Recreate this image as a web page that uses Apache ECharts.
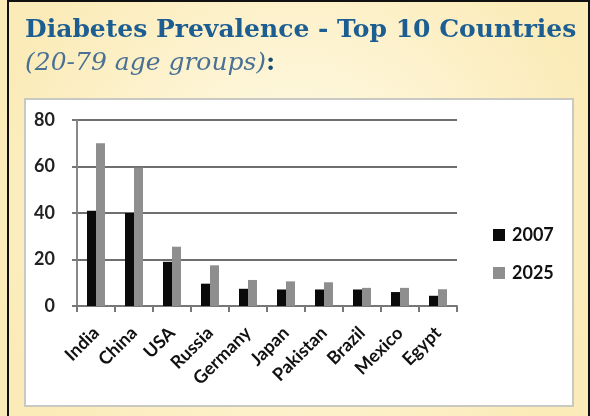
<!DOCTYPE html>
<html>
<head>
<meta charset="utf-8">
<script src="https://cdn.jsdelivr.net/npm/echarts@6/dist/echarts.min.js"></script>
<style>
  html, body { margin: 0; padding: 0; }
  #chart { width: 590px; height: 416px; }
</style>
</head>
<body>
<div id="chart"></div>
<script>
// Diabetes prevalence (millions), adults aged 20-79
const countries = ['India', 'China', 'USA', 'Russia', 'Germany', 'Japan', 'Pakistan', 'Brazil', 'Mexico', 'Egypt'];
const values2007 = [41, 40, 19, 9.6, 7.4, 7.1, 7.1, 7.1, 6.0, 4.4];
const values2025 = [70, 59.5, 25.5, 17.5, 11.2, 10.6, 10.2, 7.8, 7.8, 7.2];
const yTicks = [0, 20, 40, 60, 80];

const chart = echarts.init(document.getElementById('chart'));

const labelFont = 'Lato, "Open Sans", sans-serif';

chart.setOption({
  animation: false,
  backgroundColor: {
    type: 'radial', x: 0.5, y: 0.5, r: 0.75,
    colorStops: [
      { offset: 0, color: '#fffcec' },
      { offset: 1, color: '#fbebb8' }
    ]
  },
  graphic: [
    // outer frame edges
    { type: 'rect', shape: { x: 7, y: 0, width: 2, height: 416 }, style: { fill: '#111' }, silent: true },
    { type: 'rect', shape: { x: 7, y: 0, width: 583, height: 2 }, style: { fill: '#111' }, silent: true },
    { type: 'rect', shape: { x: 588, y: 0, width: 2, height: 416 }, style: { fill: '#111' }, silent: true },
    // white chart panel
    {
      type: 'rect', z: -1,
      shape: { x: 25, y: 99, width: 548, height: 307 },
      style: { fill: '#ffffff', stroke: '#c9c9c4', lineWidth: 2 },
      silent: true
    }
  ],
  title: [
    {
      text: 'Diabetes Prevalence - Top 10 Countries',
      left: 20, top: 13,
      textStyle: { fontFamily: '"DejaVu Serif", serif', fontWeight: 'bold', fontSize: 25, color: '#1c5d92' }
    },
    {
      text: '{a|(20-79 age groups)}{b|:}',
      left: 20, top: 46,
      textStyle: {
        rich: {
          a: { fontFamily: '"DejaVu Serif", serif', fontStyle: 'italic', fontWeight: 'normal', fontSize: 25, color: '#4a7193' },
          b: { fontFamily: '"DejaVu Serif", serif', fontWeight: 'bold', fontSize: 25, color: '#1c4c72' }
        }
      }
    }
  ],
  legend: {
    orient: 'vertical',
    left: 488, top: 221,
    itemWidth: 12, itemHeight: 12, itemGap: 20,
    icon: 'rect',
    textStyle: { fontFamily: labelFont, fontWeight: 'bold', fontSize: 18, color: '#111', padding: [0, 0, 0, 2] },
    data: ['2007', '2025']
  },
  grid: { left: 77, top: 120, right: 133, bottom: 110, containLabel: false },
  xAxis: {
    type: 'category',
    data: countries,
    axisLine: { show: true, lineStyle: { color: '#777', width: 2 } },
    axisTick: { show: true, length: 6, lineStyle: { color: '#777', width: 2 } },
    axisLabel: {
      rotate: 45, margin: 24,
      fontFamily: labelFont, fontWeight: 'bold', fontSize: 18, color: '#111'
    }
  },
  yAxis: {
    type: 'value',
    min: yTicks[0], max: yTicks[yTicks.length - 1], interval: yTicks[1] - yTicks[0],
    axisLine: { show: true, lineStyle: { color: '#888', width: 2 } },
    axisTick: { show: true, length: 5, lineStyle: { color: '#777', width: 2 } },
    splitLine: { show: true, lineStyle: { color: '#6f6f6f', width: 2 } },
    axisLabel: { margin: 22, fontFamily: labelFont, fontWeight: 'bold', fontSize: 18, color: '#222' }
  },
  series: [
    {
      name: '2007', type: 'bar', data: values2007,
      barWidth: 9, barGap: '0%',
      itemStyle: { color: '#0a0a0a' }
    },
    {
      name: '2025', type: 'bar', data: values2025,
      barWidth: 9, barGap: '0%',
      itemStyle: { color: '#8e8e8e' }
    }
  ]
});
</script>
</body>
</html>
